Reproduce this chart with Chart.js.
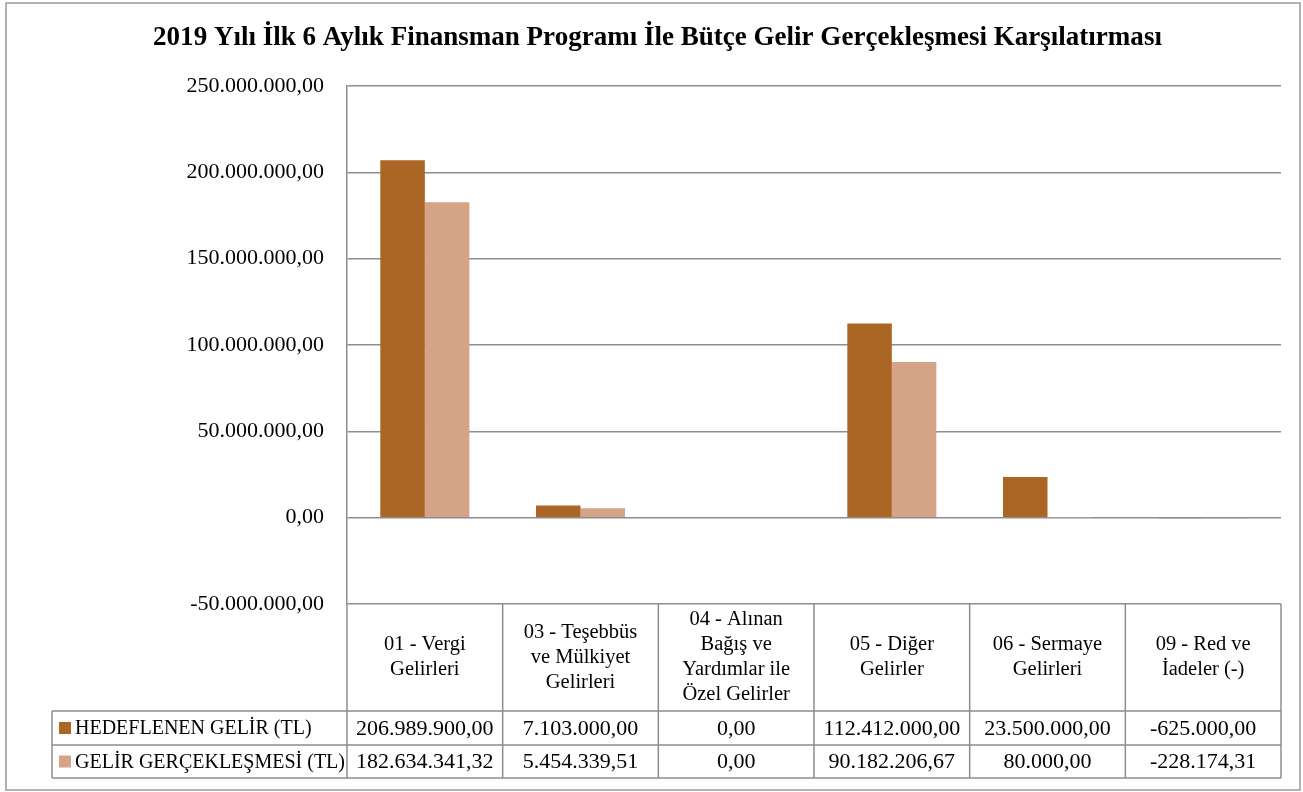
<!DOCTYPE html>
<html>
<head>
<meta charset="utf-8">
<script src="https://cdn.jsdelivr.net/npm/chart.js@4"></script>
<style>
  html, body { margin: 0; padding: 0; background: #fff; }
  canvas { display: block; }
</style>
</head>
<body>
<canvas id="gelirChart" width="1303" height="792"></canvas>
<script>
// veriler
const baslik = "2019 Yılı İlk 6 Aylık Finansman Programı İle Bütçe Gelir Gerçekleşmesi Karşılatırması";
const kategoriler = [
  ["01 - Vergi", "Gelirleri"],
  ["03 - Teşebbüs", "ve Mülkiyet", "Gelirleri"],
  ["04 - Alınan", "Bağış ve", "Yardımlar ile", "Özel Gelirler"],
  ["05 - Diğer", "Gelirler"],
  ["06 - Sermaye", "Gelirleri"],
  ["09 - Red ve", "İadeler (-)"]
];
const seriAdlari = ["HEDEFLENEN GELİR (TL)", "GELİR GERÇEKLEŞMESİ (TL)"];
const hedeflenen = [206989900.00, 7103000.00, 0.00, 112412000.00, 23500000.00, -625000.00];
const gerceklesme = [182634341.32, 5454339.51, 0.00, 90182206.67, 80000.00, -228174.31];
const yMin = -50000000, yMax = 250000000, yAdim = 50000000;

const renkler = ["#ab6524", "#d4a388"];
const cizgiRenk = "#8e8e8e";
const yazi = "'Liberation Serif', 'DejaVu Serif', serif";

// 1234567.5 -> 1.234.567,50
function trSayi(n) {
  let neg = n < 0;
  let s = Math.abs(n).toFixed(2).split(".");
  let tam = s[0].replace(/\B(?=(\d{3})+(?!\d))/g, ".");
  return (neg ? "-" : "") + tam + "," + s[1];
}

const tabloY = { ust: 604, satir1: 711, satir2: 745, alt: 778 };

const tabloPlugin = {
  id: "tablo",
  beforeDraw(chart) {
    let c = chart.ctx;
    c.save();
    c.fillStyle = "#fff";
    c.fillRect(0, 0, chart.width, chart.height);
    c.strokeStyle = "#9a9a9a";
    c.lineWidth = 1.5;
    c.strokeRect(6, 3, 1294, 787);
    c.restore();
  },
  afterDraw(chart) {
    let c = chart.ctx, area = chart.chartArea, x = chart.scales.x;
    let genislik = (area.right - area.left) / kategoriler.length;
    c.save();

    // baslik
    c.fillStyle = "#000";
    c.textAlign = "center";
    c.textBaseline = "middle";
    c.font = "bold 24px " + yazi;
    let w = c.measureText(baslik).width;
    let boy = 24 * 1009 / w;
    c.font = "bold " + boy.toFixed(2) + "px " + yazi;
    c.fillText(baslik, 657.5, 38);

    // tablo cizgileri
    c.strokeStyle = cizgiRenk;
    c.lineWidth = 1.5;
    c.beginPath();
    c.moveTo(area.left, tabloY.ust); c.lineTo(area.left, tabloY.alt);
    for (let i = 0; i < kategoriler.length; i++) {
      let sag = area.left + genislik * (i + 1);
      c.moveTo(sag, tabloY.ust); c.lineTo(sag, tabloY.alt);
    }
    c.moveTo(52, tabloY.satir1); c.lineTo(area.right, tabloY.satir1);
    c.moveTo(52, tabloY.satir2); c.lineTo(area.right, tabloY.satir2);
    c.moveTo(52, tabloY.alt); c.lineTo(area.right, tabloY.alt);
    c.moveTo(52, tabloY.satir1); c.lineTo(52, tabloY.alt);
    c.stroke();

    // kategori basliklari
    c.fillStyle = "#000";
    c.font = "20.5px " + yazi;
    let ortaY = (tabloY.ust + tabloY.satir1) / 2;
    kategoriler.forEach((satirlar, i) => {
      let cx = x.getPixelForValue(i);
      let basY = ortaY - (satirlar.length - 1) * 25 / 2;
      satirlar.forEach((s, j) => c.fillText(s, cx, basY + j * 25));
    });

    // degerler
    let seriler = [hedeflenen, gerceklesme];
    let satirOrta = [(tabloY.satir1 + tabloY.satir2) / 2, (tabloY.satir2 + tabloY.alt) / 2];
    seriler.forEach((veri, k) => {
      c.textAlign = "center";
      c.font = "22px " + yazi;
      veri.forEach((v, i) => c.fillText(trSayi(v), x.getPixelForValue(i), satirOrta[k] + 1));
      c.fillStyle = renkler[k];
      c.fillRect(59, satirOrta[k] - 6, 12, 12);
      c.fillStyle = "#000";
      c.textAlign = "left";
      c.font = "20px " + yazi;
      c.fillText(seriAdlari[k], 75, satirOrta[k] + 1);
    });
    c.restore();
  }
};

let ctx = document.getElementById("gelirChart").getContext("2d");
let gelirChart = new Chart(ctx, {
  type: "bar",
  data: {
    labels: kategoriler,
    datasets: [
      { label: seriAdlari[0], data: hedeflenen, backgroundColor: renkler[0], borderWidth: 0 },
      { label: seriAdlari[1], data: gerceklesme, backgroundColor: renkler[1], borderWidth: 0 }
    ]
  },
  options: {
    responsive: false,
    animation: false,
    layout: { padding: { left: 0, top: 86, right: 22, bottom: 188 } },
    datasets: { bar: { barPercentage: 1, categoryPercentage: 0.572 } },
    plugins: {
      legend: { display: false },
      title: { display: false },
      tooltip: { enabled: false }
    },
    scales: {
      x: { display: false },
      y: {
        min: yMin,
        max: yMax,
        afterFit(scale) { scale.width = 347; },
        ticks: {
          stepSize: yAdim,
          padding: 23,
          color: "#000",
          font: { family: yazi, size: 22 },
          callback: v => trSayi(v)
        },
        grid: { color: cizgiRenk, lineWidth: 1.5, drawTicks: false },
        border: { color: cizgiRenk, width: 1.5 }
      }
    }
  },
  plugins: [tabloPlugin]
});
</script>
</body>
</html>
